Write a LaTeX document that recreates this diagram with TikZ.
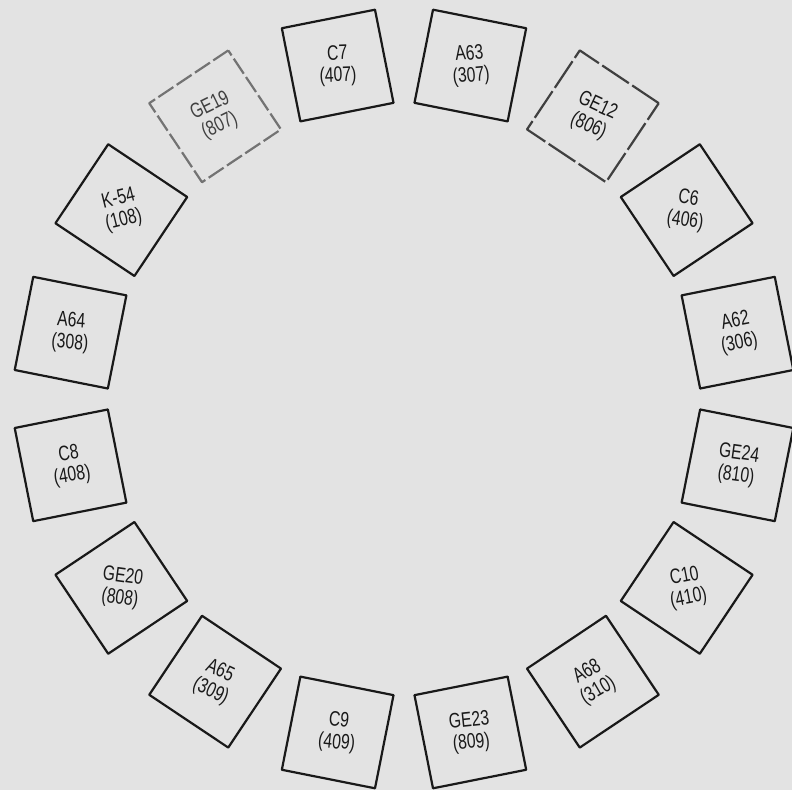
\documentclass[tikz,border=0pt]{standalone}
\usepackage{fontspec}
\newfontfamily\labfont[FakeStretch=0.75]{Liberation Sans}
\begin{document}
\begin{tikzpicture}[x=0.5pt,y=-0.5pt,
  boxstyle/.style={draw=black!90, line width=1.1pt, line join=round, minimum size=47.5pt, inner sep=0pt},
  fadedbox/.style={boxstyle, draw=black!55, dash pattern=on 9pt off 2pt},
  halfbox/.style={boxstyle, draw=black!75, dash pattern=on 16pt off 2pt},
  labstyle/.style={font=\labfont\fontsize{10.5}{11}\selectfont, align=center, text=black!90, inner sep=0pt}]
\fill[black!11] (0,0) rectangle (792,790);
\useasboundingbox (0,0) rectangle (792,790);
% solid boxes
\foreach \i/\t/\a/\b/\r in {
  1/101.25/C7/407/2,
  2/78.75/A63/307/5,
  4/33.75/C6/406/-9,
  5/11.25/A62/306/11,
  6/-11.25/GE24/810/-8,
  7/-33.75/C10/410/11,
  8/-56.25/A68/310/30,
  9/-78.75/GE23/809/6,
  10/-101.25/C9/409/-6,
  11/-123.75/A65/309/-25,
  12/-146.25/GE20/808/-8,
  13/-168.75/C8/408/9,
  14/168.75/A64/308/-4,
  15/146.25/K-54/108/14}{
  \node[boxstyle, rotate=\t-90] (b\i) at ({404+340*cos(\t)},{399-340*sin(\t)}) {};
  \node[labstyle, rotate=\r] (t\i) at (b\i.center) {\a\\(\b)};
}
% GE12, partly broken outline
\node[halfbox, rotate=56.25-90] (b3) at ({404+340*cos(56.25)},{399-340*sin(56.25)}) {};
\node[labstyle, rotate=-25] (t3) at (b3.center) {GE12\\(806)};
% GE19, faded outline
\node[fadedbox, rotate=123.75-90] (b16) at ({404+340*cos(123.75)},{399-340*sin(123.75)}) {};
\node[labstyle, rotate=26, text=black!75] (t16) at (b16.center) {GE19\\(807)};
\end{tikzpicture}
\end{document}
